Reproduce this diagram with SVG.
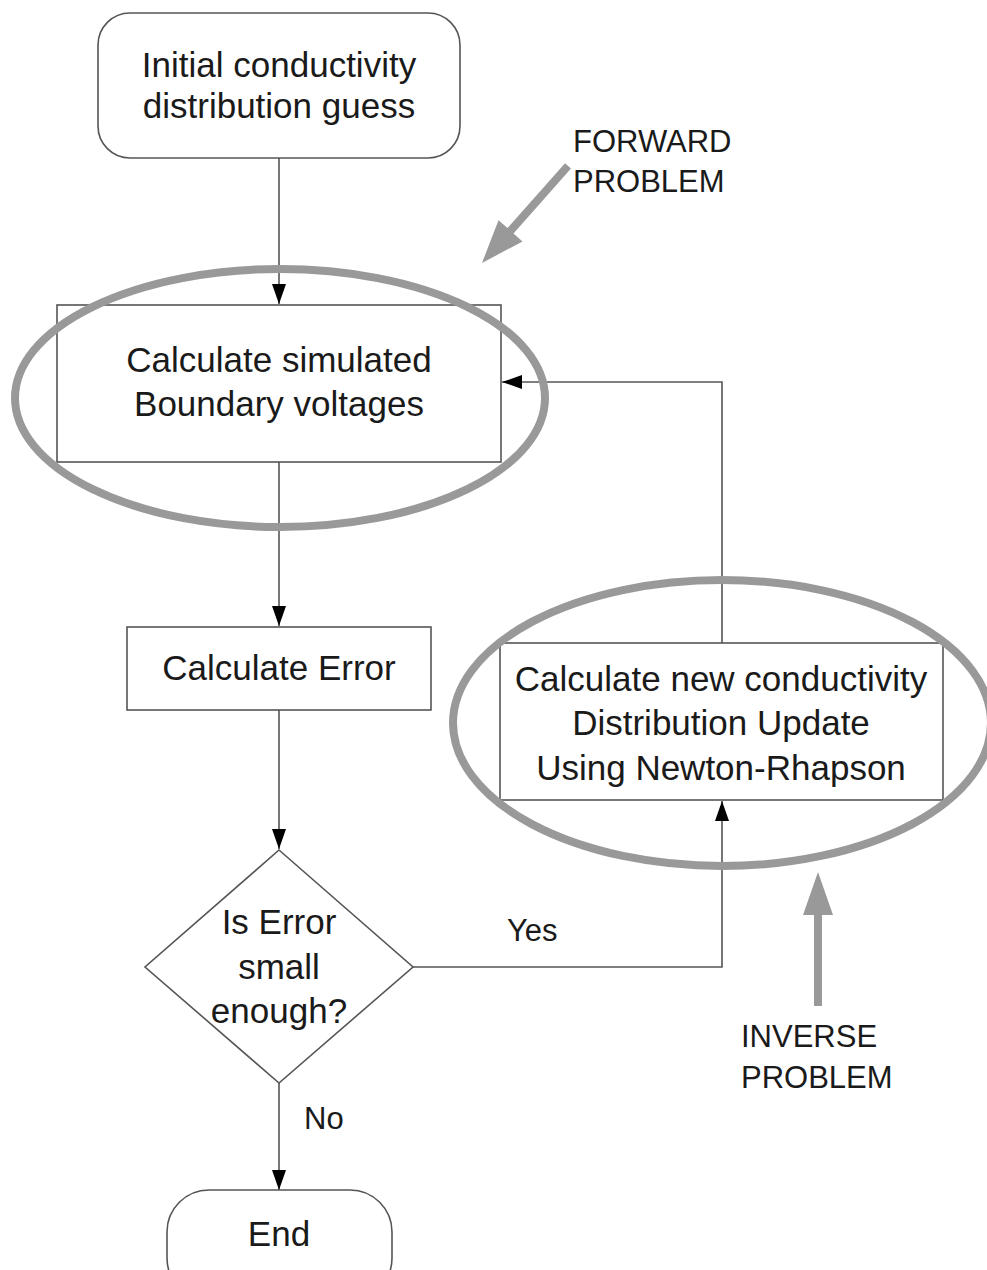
<svg xmlns="http://www.w3.org/2000/svg" width="987" height="1270" viewBox="0 0 987 1270">
<defs>
<marker id="ah" markerWidth="20" markerHeight="14" refX="20" refY="7" orient="auto" markerUnits="userSpaceOnUse">
<path d="M0,0 L20,7 L0,14 Z" fill="#000"/>
</marker>
<style>
.box{fill:#fff;stroke:#555;stroke-width:1.6}
.t{font-family:"Liberation Sans",Arial,sans-serif;font-size:35px;fill:#1a1a1a;text-anchor:middle}
.lab{font-family:"Liberation Sans",Arial,sans-serif;font-size:31px;fill:#1a1a1a}
.c{fill:none;stroke:#555;stroke-width:1.6}
.ring{fill:none;stroke:#999;stroke-width:8}
.big{fill:#999}
</style>
</defs>
<rect width="987" height="1270" fill="#fff"/>

<g id="connectors">
<path class="c" d="M279,158 L279,304" marker-end="url(#ah)"/>
<path class="c" d="M279,462 L279,626" marker-end="url(#ah)"/>
<path class="c" d="M279,710 L279,849" marker-end="url(#ah)"/>
<path class="c" d="M722,643 L722,382 L502,382" marker-end="url(#ah)"/>
<path class="c" d="M413,967 L722,967 L722,801" marker-end="url(#ah)"/>
<path class="c" d="M279,1083 L279,1190" marker-end="url(#ah)"/>
<text class="lab" x="507" y="941">Yes</text>
<text class="lab" x="304" y="1129">No</text>
</g>

<g id="n-initial">
<rect class="box" x="98" y="13" width="362" height="145" rx="32"/>
<text class="t" x="279" y="77">Initial conductivity</text>
<text class="t" x="279" y="118">distribution guess</text>
</g>

<g id="n-simulate">
<rect class="box" x="57" y="305" width="444" height="157"/>
<text class="t" x="279" y="372">Calculate simulated</text>
<text class="t" x="279" y="416">Boundary voltages</text>
</g>

<g id="n-error">
<rect class="box" x="127" y="627" width="304" height="83"/>
<text class="t" x="279" y="680">Calculate Error</text>
</g>

<g id="n-update">
<rect class="box" x="500" y="643" width="443" height="157"/>
<text class="t" x="721" y="691">Calculate new conductivity</text>
<text class="t" x="721" y="735">Distribution Update</text>
<text class="t" x="721" y="780">Using Newton-Rhapson</text>
</g>

<g id="n-decision">
<polygon class="box" points="279,850 413,967 279,1083 145,967"/>
<text class="t" x="279" y="934">Is Error</text>
<text class="t" x="279" y="979">small</text>
<text class="t" x="279" y="1023">enough?</text>
</g>

<g id="n-end">
<rect class="box" x="167" y="1190" width="225" height="110" rx="42"/>
<text class="t" x="279" y="1246">End</text>
</g>

<g id="forward-problem">
<ellipse class="ring" cx="280" cy="398" rx="265" ry="129"/>
<polygon class="big" points="565,163.3 571,168.6 513.5,233.5 522.5,241.4 482,263 498.5,220.2 507.5,228.1"/>
<text class="lab" x="573" y="152">FORWARD</text>
<text class="lab" x="573" y="192">PROBLEM</text>
</g>

<g id="inverse-problem">
<ellipse class="ring" cx="722" cy="723" rx="269" ry="143"/>
<polygon class="big" points="814,1006 822,1006 822,915 833,915 818,872 803,915 814,915"/>
<text class="lab" x="741" y="1047">INVERSE</text>
<text class="lab" x="741" y="1088">PROBLEM</text>
</g>
</svg>
